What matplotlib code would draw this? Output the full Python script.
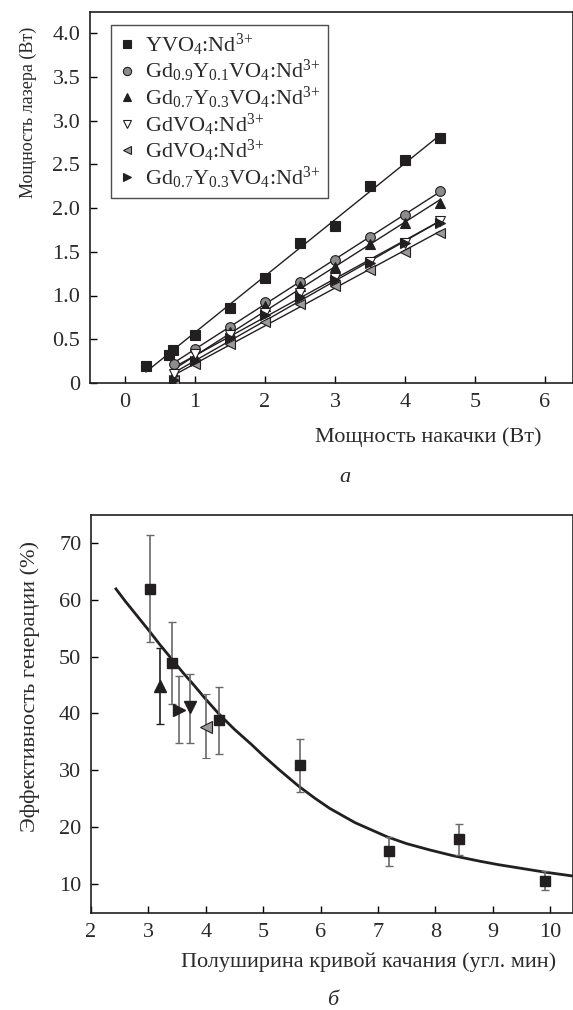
import numpy as np
import matplotlib
matplotlib.use("Agg")
import matplotlib.pyplot as plt

plt.rcParams['font.family'] = ['Liberation Serif', 'DejaVu Serif']
plt.rcParams['mathtext.fontset'] = 'custom'
plt.rcParams['mathtext.rm'] = 'Liberation Serif'
plt.rcParams['mathtext.it'] = 'Liberation Serif:italic'
plt.rcParams['mathtext.bf'] = 'Liberation Serif:bold'

# ---------------- Panel (a) data ----------------
pump_yvo = [0.3, 0.63, 0.69, 1.0, 1.5, 2.0, 2.5, 3.0, 3.5, 4.0, 4.5]
laser_yvo = [0.19, 0.32, 0.38, 0.55, 0.86, 1.2, 1.6, 1.79, 2.25, 2.55, 2.8]
pump_common = [0.7, 1.0, 1.5, 2.0, 2.5, 3.0, 3.5, 4.0, 4.5]
laser_gd09 = [0.22, 0.39, 0.64, 0.93, 1.15, 1.41, 1.67, 1.92, 2.19]
laser_gd07_up = [0.1, 0.3, 0.58, 0.88, 1.11, 1.33, 1.59, 1.83, 2.06]
laser_gdvo_down = [0.1, 0.33, 0.55, 0.8, 1.03, 1.2, 1.38, 1.6, 1.85]
laser_gdvo_left = [0.03, 0.22, 0.45, 0.7, 0.9, 1.11, 1.29, 1.5, 1.71]
laser_gd07_right = [0.03, 0.25, 0.52, 0.78, 0.98, 1.18, 1.37, 1.6, 1.83]

labels_a = [r'YVO$_4$:Nd$^{3\!+}$',
            r'Gd$_{0.9}$Y$_{0.1}$VO$_4$:Nd$^{3\!+}$',
            r'Gd$_{0.7}$Y$_{0.3}$VO$_4$:Nd$^{3\!+}$',
            r'GdVO$_4$:Nd$^{3\!+}$',
            r'GdVO$_4$:Nd$^{3\!+}$',
            r'Gd$_{0.7}$Y$_{0.3}$VO$_4$:Nd$^{3\!+}$']

# ---------------- Panel (b) data ----------------
fwhm_sq = [3.02, 3.42, 4.23, 5.65, 7.19, 8.41, 9.91]
eff_sq = [61.9, 48.9, 38.8, 30.9, 15.8, 17.9, 10.5]
err_sq_lo = [9.3, 7.2, 5.9, 4.7, 2.7, 2.8, 1.6]
err_sq_hi = [9.5, 7.2, 5.8, 4.6, 2.4, 2.6, 1.8]

fwhm_up, eff_up, err_up_lo, err_up_hi = [3.21], [44.8], [6.7], [6.7]
fwhm_right, eff_right, err_right_lo, err_right_hi = [3.54], [40.6], [5.8], [6.0]
fwhm_down, eff_down, err_down_lo, err_down_hi = [3.73], [41.1], [6.3], [5.8]
fwhm_left, eff_left, err_left_lo, err_left_hi = [4.0], [37.6], [5.5], [5.8]

curve_x = [2.42, 2.6, 2.8, 3.0, 3.2, 3.42, 3.6, 3.8, 4.0, 4.23, 4.5, 4.79, 5.0,
           5.29, 5.62, 5.9, 6.16, 6.6, 7.16, 7.5, 7.9, 8.3, 8.78, 9.1, 9.47, 9.9, 10.4]
curve_y = [62.1, 59.7, 57.2, 54.7, 52.1, 49.4, 47.2, 44.9, 42.5, 39.9, 37.2, 34.6, 32.6,
           30.0, 27.2, 25.1, 23.3, 20.8, 18.3, 17.1, 16.0, 15.0, 14.0, 13.4, 12.8, 12.1, 11.4]

BLACK = '#231f20'
GREY = '#8c8c8c'
LGREY = '#9a9a9a'
TXT = '#2a2a2a'
FS = 16

fig = plt.figure(figsize=(5.73, 10.10), dpi=100)

# ================= Panel (a) =================
ax1 = fig.add_axes([90/573, 1-383/1010, 1-90/573, (383-12)/1010])
series = [
    (pump_yvo, laser_yvo, 's', BLACK, BLACK, 6.5),
    (pump_common, laser_gd09, 'o', GREY, BLACK, 7),
    (pump_common, laser_gd07_up, '^', BLACK, BLACK, 7.5),
    (pump_common, laser_gdvo_down, 'v', 'white', BLACK, 7.5),
    (pump_common, laser_gdvo_left, '<', LGREY, BLACK, 7.5),
    (pump_common, laser_gd07_right, '>', BLACK, BLACK, 7.5),
]
for (xs, ys, m, fc, ec, ms), lab in zip(series, labels_a):
    xs = np.asarray(xs); ys = np.asarray(ys)
    k, b = np.polyfit(xs, ys, 1)
    xl = np.array([xs.min(), xs.max()])
    ax1.plot(xl, k*xl + b, color=BLACK, lw=1.0, zorder=2)
    ax1.plot(xs, ys, ls='none', marker=m, mfc=fc, mec=ec, mew=0.8, ms=ms,
             label=lab, zorder=3)

ax1.set_xlim(-0.5, 6.4)
ax1.set_ylim(0, 4.24)
ax1.set_xticks([0, 1, 2, 3, 4, 5, 6])
ax1.set_yticks([0, 0.5, 1.0, 1.5, 2.0, 2.5, 3.0, 3.5, 4.0])
ax1.set_yticklabels(['0', '0.5', '1.0', '1.5', '2.0', '2.5', '3.0', '3.5', '4.0'])
leg = ax1.legend(loc='upper left', bbox_to_anchor=(0.043, 0.965), fontsize=FS,
                 frameon=True, fancybox=False, edgecolor=BLACK, handlelength=0.9,
                 handletextpad=0.35, labelspacing=0.02, borderpad=0.3,
                 borderaxespad=0, markerscale=0.85)
leg.get_frame().set_linewidth(1.0)
for t in leg.get_texts():
    t.set_color(TXT)
ax1.set_xlabel('Мощность накачки (Вт)', fontsize=FS, color=TXT)
ax1.xaxis.set_label_coords(0.70, -0.146)
ax1.xaxis.label.set_va('center')
ax1.set_ylabel('Мощность лазера (Вт)', fontsize=13, color=TXT)
ax1.yaxis.set_label_coords(-0.128, 0.73)
ax1.yaxis.label.set_va('center')
ax1.text(0.528, -0.256, 'а', transform=ax1.transAxes, ha='center', va='center',
         fontsize=FS, style='italic', color=TXT)

# ================= Panel (b) =================
ax2 = fig.add_axes([91/573, 1-913/1010, 1-91/573, (913-515)/1010])
ax2.plot(curve_x, curve_y, color=BLACK, lw=2.0, zorder=2, solid_capstyle='butt',
         solid_joinstyle='round')

ebkw = dict(ls='none', elinewidth=1.2, capsize=3, capthick=1.0, zorder=3)
ax2.errorbar(fwhm_sq, eff_sq, yerr=[err_sq_lo, err_sq_hi], fmt='s', ms=7.5,
             mfc=BLACK, mec=BLACK, ecolor='#6a6a6a', **ebkw)
ax2.errorbar(fwhm_up, eff_up, yerr=[err_up_lo, err_up_hi], fmt='^', ms=8.5,
             mfc=BLACK, mec=BLACK, ecolor=BLACK, **ebkw)
ax2.errorbar(fwhm_right, eff_right, yerr=[err_right_lo, err_right_hi], fmt='>', ms=8.5,
             mfc=BLACK, mec=BLACK, ecolor='#6a6a6a', **ebkw)
ax2.errorbar(fwhm_down, eff_down, yerr=[err_down_lo, err_down_hi], fmt='v', ms=8.5,
             mfc=BLACK, mec=BLACK, ecolor='#6a6a6a', **ebkw)
ax2.errorbar(fwhm_left, eff_left, yerr=[err_left_lo, err_left_hi], fmt='<', ms=8.5,
             mfc=LGREY, mec=BLACK, mew=0.8, ecolor='#6a6a6a', **ebkw)

ax2.set_xlim(2, 10.4)
ax2.set_ylim(4.9, 74.9)
ax2.set_xticks([2, 3, 4, 5, 6, 7, 8, 9, 10])
ax2.set_yticks([10, 20, 30, 40, 50, 60, 70])
ax2.set_xlabel('Полуширина кривой качания (угл. мин)', fontsize=FS, color=TXT)
ax2.xaxis.set_label_coords(0.575, -0.123)
ax2.xaxis.label.set_va('center')
ax2.set_ylabel('Эффективность генерации (%)', fontsize=FS, color=TXT)
ax2.yaxis.set_label_coords(-0.127, 0.57)
ax2.yaxis.label.set_va('center')
ax2.text(0.502, -0.219, 'б', transform=ax2.transAxes, ha='center', va='center',
         fontsize=FS, style='italic', color=TXT)

for ax in (ax1, ax2):
    for sp in ax.spines.values():
        sp.set_linewidth(1.2)
        sp.set_color(BLACK)
    ax.tick_params(direction='in', length=5, width=1.0, labelsize=FS,
                   labelcolor=TXT, pad=7)

fig.savefig('out.png', dpi=100)
